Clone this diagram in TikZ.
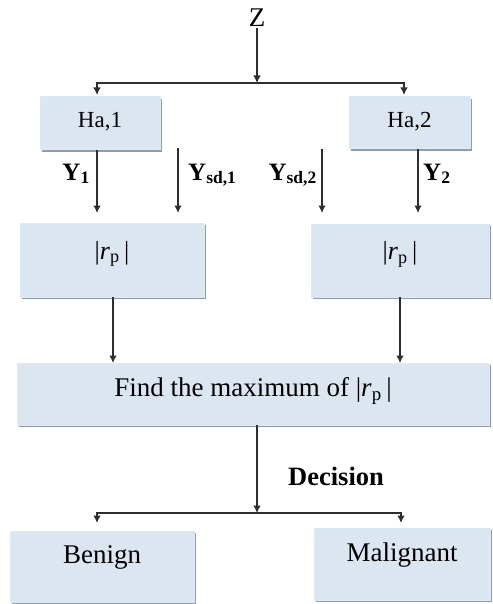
\documentclass[tikz,border=0pt]{standalone}
\usepackage{fontspec}
\setmainfont{Liberation Serif}
\usetikzlibrary{positioning, calc, arrows.meta, shadows}
\definecolor{boxfill}{HTML}{DCE6F1}
\definecolor{boxline}{HTML}{DAECF3}
\definecolor{boxshadow}{HTML}{8E9BB0}
\definecolor{arrowgray}{HTML}{2E2E2E}
\tikzset{
  box/.style={rectangle, fill=boxfill, draw=boxline, line width=1pt, inner sep=0pt, outer sep=0pt,
    text height=17pt, text depth=0pt,
    drop shadow={shadow xshift=2pt, shadow yshift=-2pt, fill=boxshadow, opacity=1}},
  arr/.style={draw=arrowgray, line width=1.1pt, -{Latex[length=7.5pt,width=7.5pt]}},
  ylab/.style={font=\fontsize{25}{30}\selectfont\bfseries, inner sep=0pt},
}
\newcommand{\rabs}{\textbar\textit{r}\textsubscript{p}\,\textbar}

\begin{document}
\begin{tikzpicture}[x=1pt, y=-1pt]
        \useasboundingbox (0,0) rectangle (492,604);
        %ingresso
        \node[font=\fontsize{27}{30}\selectfont, inner sep=1pt, anchor=base] (z) at (257,26.7) {Z};
        \coordinate (j1) at (257,83);
        %blocchi Ha
        \node[box, minimum width=120pt, minimum height=53pt, font=\fontsize{23}{28}\selectfont, text height=15pt, text depth=6pt] (ha1) at (100,123.5) {Ha,1};
        \node[box, minimum width=121pt, minimum height=52pt, font=\fontsize{23}{28}\selectfont, text height=15pt, text depth=5pt] (ha2) at (409.5,123) {Ha,2};
        \draw[arr] (z) -- (j1);
        \draw[arr, shorten >=2pt] (j1) -| ([xshift=-3pt]ha1.north);
        \draw[arr, shorten >=2pt] (j1) -| ([xshift=-5.5pt]ha2.north);
        %blocchi rp
        \node[box, minimum width=184pt, minimum height=74pt, font=\fontsize{26}{30}\selectfont, text depth=19pt] (rp1) at (112,260) {\rabs};
        \node[box, minimum width=178pt, minimum height=73pt, font=\fontsize{26}{30}\selectfont, text depth=19pt] (rp2) at (400,260.5) {\rabs};
        \coordinate (sd1) at (178,148);
        \coordinate (sd2) at (322,149);
        \draw[arr, shorten >=10pt] ([xshift=-3pt]ha1.south) -- ([xshift=-3pt]ha1.south |- rp1.north);
        \draw[arr, shorten >=10pt] (sd1) -- (sd1 |- rp1.north);
        \draw[arr, shorten >=11pt] (sd2) -- (sd2 |- rp2.north);
        \draw[arr, shorten >=11pt] ([xshift=8.5pt]ha2.south) -- ([xshift=8.5pt]ha2.south |- rp2.north);
        \node[ylab, anchor=base east] (y1) at (90,180) {Y\textsubscript{1}};
        \node[ylab, anchor=base west] (ysd1) at (188,180) {Y\textsubscript{sd,1}};
        \node[ylab, anchor=base east] (ysd2) at (317,180) {Y\textsubscript{sd,2}};
        \node[ylab, anchor=base west] (y2) at (423,180) {Y\textsubscript{2}};
        %massimo
        \node[box, minimum width=472pt, minimum height=62pt, font=\fontsize{27}{32}\selectfont, text depth=12pt] (find) at (253,394) {Find the maximum of \rabs};
        \draw[arr] ([xshift=1pt]rp1.south) -- ([xshift=1pt]rp1.south |- find.north);
        \draw[arr] (rp2) -- (rp2 |- find.north);
        %decisione
        \coordinate (j2) at (257,513);
        \node[font=\fontsize{26.5}{30}\selectfont\bfseries, inner sep=0pt, anchor=base west] (dec) at (288,485) {Decision};
        \node[box, minimum width=184pt, minimum height=71pt, font=\fontsize{27}{32}\selectfont, text depth=22.4pt] (benign) at (102,566.5) {Benign};
        \node[box, minimum width=176pt, minimum height=72pt, font=\fontsize{27}{32}\selectfont, text depth=22.4pt] (malig) at (402,564) {Malignant};
        \draw[arr] ([xshift=4pt]find.south) -- (j2);
        \draw[arr, shorten >=8pt] (j2) -| ([xshift=-5pt]benign.north);
        \draw[arr, shorten >=5pt] (j2) -| ([xshift=-1pt]malig.north);
    \end{tikzpicture}
\end{document}
